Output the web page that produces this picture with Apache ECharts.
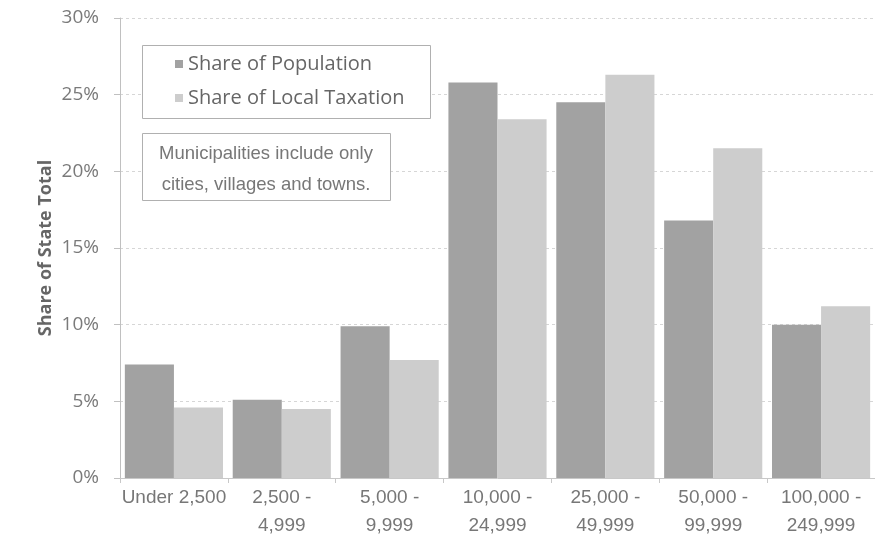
<!DOCTYPE html>
<html>
<head>
<meta charset="utf-8">
<script src="https://cdn.jsdelivr.net/npm/echarts@6/dist/echarts.min.js"></script>
<style>
html,body{margin:0;padding:0;background:#fff;}
#chart{width:875px;height:540px;}
</style>
</head>
<body>
<div id="chart"></div>
<script>
const categories = ["Under 2,500", "2,500 - 4,999", "5,000 - 9,999", "10,000 - 24,999", "25,000 - 49,999", "50,000 - 99,999", "100,000 - 249,999"];
const seriesNames = ["Share of Population", "Share of Local Taxation"];
const populationShare = [7.4, 5.1, 9.9, 25.8, 24.5, 16.8, 10.0];
const taxationShare = [4.6, 4.5, 7.7, 23.4, 26.3, 21.5, 11.2];
const yTicks = [0, 5, 10, 15, 20, 25, 30];
const noteLines = ["Municipalities include only", "cities, villages and towns."];

const chart = echarts.init(document.getElementById('chart'), null, {renderer: 'canvas'});
const option = {
  backgroundColor: '#ffffff',
  animation: false,
  grid: {left: 120, top: 18, width: 760, height: 460, containLabel: false},
  legend: {
    orient: 'vertical',
    left: 175,
    top: 53,
    padding: 0,
    itemGap: 12,
    itemWidth: 8,
    itemHeight: 8,
    icon: 'rect',
    z: 5,
    data: seriesNames,
    textStyle: {fontFamily: 'Open Sans', fontSize: 20, color: '#666', lineHeight: 22}
  },
  xAxis: {
    type: 'category',
    data: categories,
    axisLine: {show: true, lineStyle: {color: '#c8c8c8', width: 1}},
    axisTick: {show: true, length: 5, lineStyle: {color: '#c8c8c8'}},
    axisLabel: {
      interval: 0,
      margin: 6,
      fontFamily: 'Liberation Sans',
      fontSize: 19,
      lineHeight: 28,
      color: '#777',
      formatter: function (v) { return v.replace(' - ', ' -\n'); }
    },
    splitLine: {show: false}
  },
  yAxis: {
    type: 'value',
    min: yTicks[0],
    max: yTicks[yTicks.length - 1],
    interval: 5,
    name: 'Share of State Total',
    nameLocation: 'middle',
    nameRotate: 90,
    nameGap: 65,
    nameMoveOverlap: false,
    nameTextStyle: {fontFamily: 'Open Sans', fontWeight: 'bold', fontSize: 18, color: '#666'},
    axisLine: {show: true, lineStyle: {color: '#c0c0c0', width: 1}},
    axisTick: {show: true, length: 6, lineStyle: {color: '#c0c0c0'}},
    axisLabel: {
      margin: 21,
      fontFamily: 'Open Sans',
      fontSize: 19,
      color: '#7a7a7a',
      formatter: function (v) { return v + '%'; }
    },
    splitLine: {show: true, lineStyle: {color: '#d6d6d6', type: [3, 3], width: 1}}
  },
  graphic: [
    {
      type: 'rect',
      z: 3,
      shape: {x: 142.5, y: 45.5, width: 288, height: 73},
      style: {fill: '#ffffff', stroke: '#b0b0b0', lineWidth: 1}
    },
    {
      type: 'rect',
      z: 3,
      shape: {x: 142.5, y: 133.5, width: 248, height: 67},
      style: {fill: '#ffffff', stroke: '#b0b0b0', lineWidth: 1}
    },
    {
      type: 'text',
      z: 4,
      x: 266,
      y: 169,
      style: {
        text: noteLines.join('\n'),
        fontFamily: 'Liberation Sans',
        fontSize: 18.5,
        lineHeight: 31,
        fill: '#777',
        align: 'center',
        verticalAlign: 'middle'
      }
    }
  ],
  series: [
    {
      name: seriesNames[0],
      type: 'bar',
      data: populationShare,
      barGap: '0%',
      barCategoryGap: '9%',
      itemStyle: {color: '#a2a2a2'}
    },
    {
      name: seriesNames[1],
      type: 'bar',
      data: taxationShare,
      barGap: '0%',
      barCategoryGap: '9%',
      itemStyle: {color: '#cdcdcd'}
    }
  ]
};
chart.setOption(option);
</script>
</body>
</html>
